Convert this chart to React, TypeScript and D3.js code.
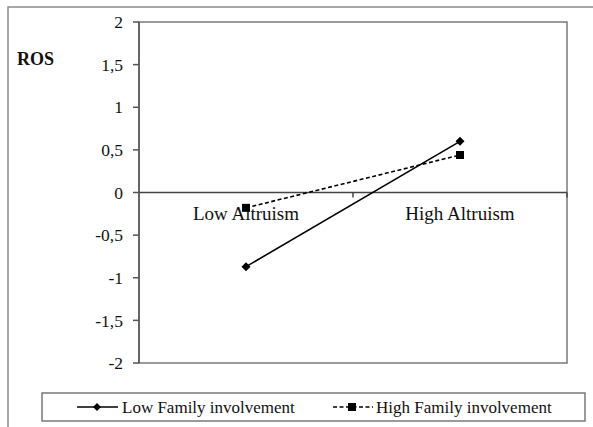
import React from "react";
import * as d3 from "d3";

const categories = ["Low Altruism", "High Altruism"];
const lowFamily = [-0.87, 0.6];
const highFamily = [-0.18, 0.44];
const seriesNames = ["Low Family involvement", "High Family involvement"];
const yTicks = [2, 1.5, 1, 0.5, 0, -0.5, -1, -1.5, -2];
const yLabel = "ROS";

const W = 593;
const H = 427;
const font = "'Liberation Serif', 'Times New Roman', serif";

export default function App() {
  const x = d3.scaleBand<string>().domain(categories).range([139, 567]).padding(0);
  const y = d3.scaleLinear().domain([-2, 2]).range([363, 22]);
  const cx = (c: string) => (x(c) as number) + x.bandwidth() / 2;
  const line = d3
    .line<number>()
    .x((_, i) => cx(categories[i]))
    .y((d) => y(d));

  const diamond = (px: number, py: number, s = 4.5) =>
    `M${px},${py - s}L${px + s},${py}L${px},${py + s}L${px - s},${py}Z`;

  const fmt = (v: number) => String(v).replace(".", ",");

  return (
    <svg
      width={W}
      height={H}
      style={{ position: "absolute", left: 0, top: 0, background: "#fff" }}
    >
      <rect x={0} y={0} width={W} height={H} fill="#fff" />
      {/* outer border */}
      <rect x={8} y={7} width={W + 20} height={H + 20} fill="none" stroke="#8a8a8a" strokeWidth={1.5} />
      {/* plot area border */}
      <rect x={139} y={22} width={567 - 139} height={363 - 22} fill="none" stroke="#7a7a7a" strokeWidth={1.5} />
      {/* y axis */}
      <line x1={139} x2={139} y1={22} y2={363} stroke="#555" strokeWidth={1.5} />
      {yTicks.map((t) => (
        <g key={t}>
          <line x1={133} x2={139} y1={y(t)} y2={y(t)} stroke="#555" strokeWidth={1.5} />
          <text
            x={123}
            y={y(t)}
            dy="0.35em"
            textAnchor="end"
            fontFamily={font}
            fontSize={17.5}
            fill="#111"
          >
            {fmt(t)}
          </text>
        </g>
      ))}
      {/* zero axis */}
      <line x1={139} x2={567} y1={y(0)} y2={y(0)} stroke="#444" strokeWidth={1.5} />
      {categories.map((c) => (
        <line
          key={"t" + c}
          x1={(x(c) as number) + x.bandwidth()}
          x2={(x(c) as number) + x.bandwidth()}
          y1={y(0)}
          y2={y(0) + 5}
          stroke="#444"
          strokeWidth={1.5}
        />
      ))}
      {categories.map((c) => (
        <text
          key={"l" + c}
          x={cx(c)}
          y={220}
          textAnchor="middle"
          fontFamily={font}
          fontSize={19}
          fill="#111"
        >
          {c}
        </text>
      ))}
      <text x={17} y={65} fontFamily={font} fontSize={18} fontWeight="bold" fill="#111">
        {yLabel}
      </text>
      {/* series */}
      <path d={line(lowFamily) as string} fill="none" stroke="#000" strokeWidth={1.6} />
      <path
        d={line(highFamily) as string}
        fill="none"
        stroke="#000"
        strokeWidth={1.6}
        strokeDasharray="4,2.5"
      />
      {lowFamily.map((v, i) => (
        <path key={"d" + i} d={diamond(cx(categories[i]), y(v))} fill="#000" />
      ))}
      {highFamily.map((v, i) => (
        <rect key={"s" + i} x={cx(categories[i]) - 4} y={y(v) - 4} width={8} height={8} fill="#000" />
      ))}
      {/* legend */}
      <rect x={42} y={393} width={585 - 42} height={421 - 393} fill="#fff" stroke="#7a7a7a" strokeWidth={1.5} />
      <line x1={77} x2={118} y1={407} y2={407} stroke="#000" strokeWidth={1.6} />
      <path d={diamond(97, 407, 4)} fill="#000" />
      <text x={122} y={407} dy="0.35em" fontFamily={font} fontSize={17} fill="#111">
        {seriesNames[0]}
      </text>
      <line x1={333} x2={373} y1={407} y2={407} stroke="#000" strokeWidth={1.6} strokeDasharray="4,2.5" />
      <rect x={348} y={403} width={8} height={8} fill="#000" />
      <text x={376} y={407} dy="0.35em" fontFamily={font} fontSize={17} fill="#111">
        {seriesNames[1]}
      </text>
    </svg>
  );
}
